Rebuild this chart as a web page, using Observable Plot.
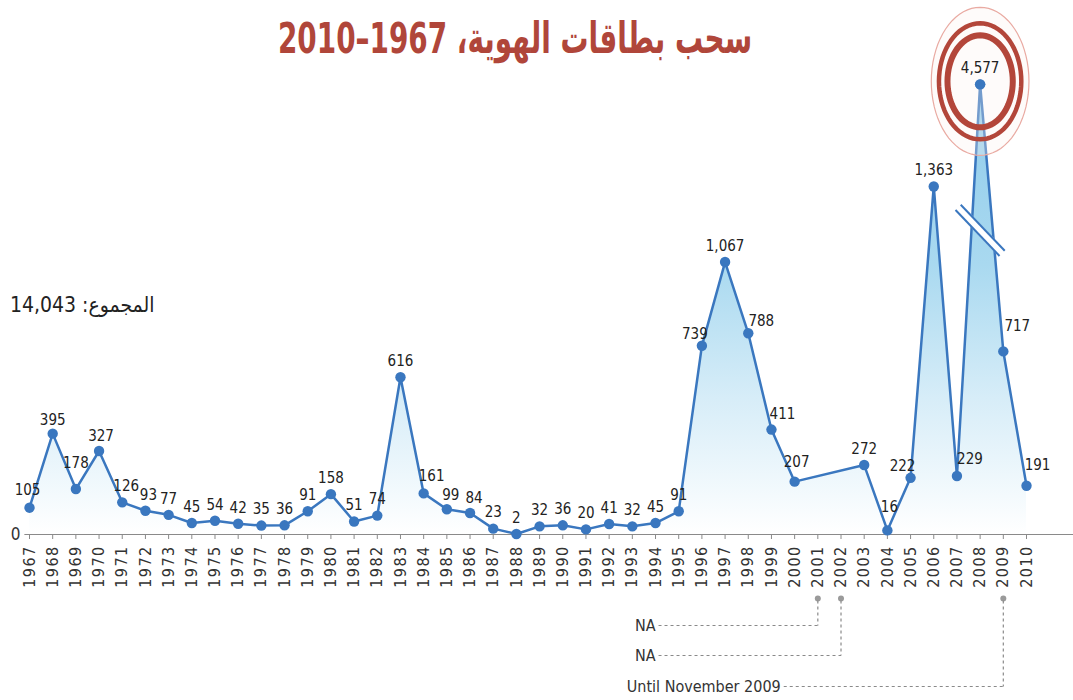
<!DOCTYPE html>
<html><head><meta charset="utf-8">
<script src="https://cdn.jsdelivr.net/npm/d3@7"></script>
<script src="https://cdn.jsdelivr.net/npm/@observablehq/plot@0.6"></script>
<style>
body{margin:0;background:#fff;}
#wrap{position:relative;width:1073px;height:700px;overflow:hidden;}
#chart{position:absolute;left:0;top:0;}
#title{position:absolute;left:0;width:1030px;top:14px;text-align:center;}
#title span{display:inline-block;font:bold 31px "DejaVu Sans Condensed","DejaVu Sans",sans-serif;color:#b0463a;direction:rtl;line-height:1.1;transform:scale(1,1.4);transform-origin:center top;}
#total{position:absolute;left:10px;top:293px;font:21px "DejaVu Sans Condensed","DejaVu Sans",sans-serif;color:#222;direction:rtl;line-height:1.2;}
#chart g[aria-label="x-axis tick label"] text{letter-spacing:1.4px;}
</style></head><body>
<div id="wrap"><div id="chart"></div>
<div id="title"><span>سحب بطاقات الهوية، 1967–2010</span></div>
<div id="total">المجموع: 14,043</div>
</div>
<script>
// ---- data ----
const years = [1967,1968,1969,1970,1971,1972,1973,1974,1975,1976,1977,1978,1979,1980,1981,1982,1983,1984,1985,1986,1987,1988,1989,1990,1991,1992,1993,1994,1995,1996,1997,1998,1999,2000,2001,2002,2003,2004,2005,2006,2007,2008,2009,2010];
const values = [105,395,178,327,126,93,77,45,54,42,35,36,91,158,51,74,616,161,99,84,23,2,32,36,20,41,32,45,91,739,1067,788,411,207,null,null,272,16,222,1363,229,4577,717,191];
const noteYears = [2001,2002,2009];
const noteLabels = ["NA","NA","Until November 2009"];

// ---- layout ----
const W = 1073, H = 700, mTop = 80, mBottom = 166, mLeft = 29, mRight = 47;
const yMax = 1778;              // visible top of the (broken) value axis
const breakAt = 1500;           // values above this are drawn on the broken part of the axis
const brokenHeight = 1763;      // where an over-range value is drawn
const unitsPerPx = yMax / (H - mTop - mBottom);
const below = px => -px * unitsPerPx;          // pixels below baseline -> y units
const yearsPerPx = (2010 - 1967) / (W - mLeft - mRight);

const pts = years.map((year, i) => ({year, value: values[i]}))
  .filter(d => d.value != null)
  .map(d => ({...d, shown: d.value > breakAt ? brokenHeight : d.value}));

const fmt = d3.format(",");
const blue = "#3a77bf";
const red = "#b3463a";
const labelFont = '"Liberation Sans Narrow","DejaVu Sans Condensed",sans-serif';

// label nudges [dx, dy]
const nudge = {1967:[-2,-18],1968:[0,-13],1969:[0,-26],1970:[2,-15],1971:[4,-16],1972:[3,-16],1984:[8,-17],1985:[4,-14],1986:[4,-15],1996:[-7,-12],1998:[13,-12],1999:[11,-15],2000:[2,-19],2004:[2,-23],2005:[-8,-12],2007:[13,-17],2008:[0,-16],2009:[14,-25],2010:[11,-21]};

const labelMarks = pts.map(d => {
  const [dx, dy] = nudge[d.year] || [0, -16];
  return Plot.text([d], {x: "year", y: "shown", text: p => fmt(p.value), dx, dy,
    fontSize: 15, fill: "#222", fontFamily: labelFont});
});

// ellipse symbol for the highlight rings
const ellipse = aspect => ({
  draw(ctx, size) {
    const r = Math.sqrt(size / Math.PI), rx = r * aspect;
    const n = 72;
    for (let i = 0; i <= n; i++) {
      const a = (i / n) * 2 * Math.PI;
      const px = rx * Math.cos(a), py = r * Math.sin(a);
      if (i === 0) ctx.moveTo(px, py); else ctx.lineTo(px, py);
    }
    ctx.closePath();
  }
});

const peak = pts.filter(d => d.value > breakAt);

const defs = () => {
  const d = d3.create("svg:defs");
  const g = d.append("linearGradient").attr("id", "areaGrad")
    .attr("x1", 0).attr("x2", 0).attr("y1", 0).attr("y2", 1);
  [[0, "#8fcbea"], [0.4, "#a9d9f0"], [0.7, "#d7edf8"], [1, "#ffffff"]]
    .forEach(([o, c]) => g.append("stop").attr("offset", o).attr("stop-color", c));
  return d.node();
};

// break marker on the over-range peak
const bx = peak[0].year, byMid = 1191, bdx = 22 * yearsPerPx, bdy = 23 * unitsPerPx;
const brk = [{x1: bx - bdx, x2: bx + bdx, y1: byMid + bdy, y2: byMid - bdy}];

// notes
const notes = noteYears.map((year, i) => ({year, label: noteLabels[i], row: [91, 121, 152][i]}));
const textEnd = [1994.0, 1994.0, 1999.4];

const chart = Plot.plot({
  width: W, height: H,
  marginTop: mTop, marginBottom: mBottom, marginLeft: mLeft, marginRight: mRight,
  x: {domain: [1967, 2010]},
  y: {domain: [0, yMax]},
  style: {fontFamily: labelFont, overflow: "visible", background: "transparent"},
  marks: [
    defs,
    Plot.areaY(pts, {x: "year", y: "shown", fill: "url(#areaGrad)"}),
    Plot.ruleY([0], {x1: 1966.8, x2: 2012.1, stroke: "#8a8a8a", strokeWidth: 1}),
    Plot.axisX({ticks: years, tickFormat: d => String(d), tickRotate: -90, tickSize: 5,
      tickPadding: 6, fontSize: 16, stroke: "#8a8a8a", fill: "#333", label: null}),
    Plot.axisY({ticks: [0], tickSize: 0, tickPadding: 9, fontSize: 17, fill: "#333", label: null}),
    Plot.lineY(pts, {x: "year", y: "shown", stroke: blue, strokeWidth: 2.5}),
    Plot.dot(pts, {x: "year", y: "shown", r: 5.2, fill: blue}),
    // break marker
    Plot.link(brk, {x1: "x1", x2: "x2", y1: "y1", y2: "y2", stroke: "white", strokeWidth: 9}),
    Plot.link(brk, {x1: "x1", x2: "x2", y1: "y1", y2: "y2", stroke: blue, strokeWidth: 2, dx: 2.6, dy: -2.6}),
    Plot.link(brk, {x1: "x1", x2: "x2", y1: "y1", y2: "y2", stroke: blue, strokeWidth: 2, dx: -2.6, dy: 2.6}),
    // highlight rings
    Plot.dot(peak, {x: "year", y: "shown", r: 74, symbol: ellipse(0.66), fill: "#fdf1ef", fillOpacity: 0.3, stroke: "#e9aaa2", strokeWidth: 1.2, dy: -3}),
    Plot.dot(peak, {x: "year", y: "shown", r: 58, symbol: ellipse(0.71), fill: "none", stroke: red, strokeWidth: 4.5, dy: -3}),
    Plot.dot(peak, {x: "year", y: "shown", r: 46, symbol: ellipse(0.71), fill: "none", stroke: red, strokeWidth: 6, dy: -3}),
    Plot.dot(peak, {x: "year", y: "shown", r: 5.2, fill: blue}),
    ...labelMarks,
    // notes
    Plot.dot(notes, {x: "year", y: () => below(64), r: 3, fill: "#9a9a9a"}),
    Plot.link(notes, {x1: "year", x2: "year", y1: () => below(66), y2: d => below(d.row), stroke: "#8a8a8a", strokeDasharray: "3,3", strokeWidth: 1.2}),
    Plot.link(notes, {x1: (d, i) => textEnd[i] + 3 * yearsPerPx, x2: "year", y1: d => below(d.row), y2: d => below(d.row), stroke: "#8a8a8a", strokeDasharray: "3,3", strokeWidth: 1.2}),
    Plot.text(notes, {x: (d, i) => textEnd[i], y: d => below(d.row), text: "label", textAnchor: "end", fontSize: 16, fill: "#333", fontFamily: labelFont})
  ]
});
document.getElementById("chart").append(chart);
</script>
</body></html>
